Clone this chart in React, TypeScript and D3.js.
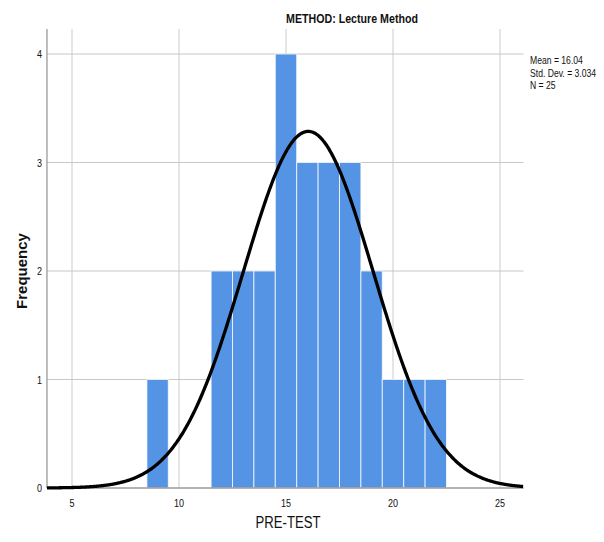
import * as d3 from "d3";

// PRE-TEST scores (bin centers) and counts
const scores = [9, 12, 13, 14, 15, 16, 17, 18, 19, 20, 21, 22];
const counts = [1, 2, 2, 2, 4, 3, 3, 3, 2, 1, 1, 1];
const xTicks = [5, 10, 15, 20, 25];
const yTicks = [0, 1, 2, 3, 4];
const statLines = ["Mean = 16.04", "Std. Dev. = 3.034", "N = 25"];

const MEAN = 16.04;
const SD = 3.034;
const N = 25;

const W = 604;
const H = 542;
const sans = "'Liberation Sans', Arial, sans-serif";

// no narrow font installed, so squeeze Liberation Sans horizontally
function Narrow({
  x,
  y,
  size,
  anchor = "start",
  bold = false,
  children,
}: {
  x: number;
  y: number;
  size: number;
  anchor?: "start" | "middle" | "end";
  bold?: boolean;
  children: React.ReactNode;
}) {
  return (
    <text
      transform={`translate(${x},${y}) scale(0.82,1)`}
      textAnchor={anchor}
      fontFamily={sans}
      fontWeight={bold ? "bold" : "normal"}
      fontSize={size}
      fill="#111"
    >
      {children}
    </text>
  );
}

export default function App() {
  const x = d3.scaleLinear().domain([5, 25]).range([72, 500]);
  const y = d3.scaleLinear().domain([0, 4]).range([488, 54]);
  const left = x(3.83);
  const right = x(26.1);
  const top = y(4.23);
  const bottom = y(0);

  const pdf = (v: number) =>
    (N / (SD * Math.sqrt(2 * Math.PI))) * Math.exp(-((v - MEAN) ** 2) / (2 * SD * SD));
  const curvePts = d3.range(3.83, 26.1001, 0.05).map((v) => [v, pdf(v)] as [number, number]);
  const line = d3
    .line<[number, number]>()
    .x((d) => x(d[0]))
    .y((d) => y(d[1]))
    .curve(d3.curveBasis);

  return (
    <div style={{ position: "fixed", left: 0, top: 0 }}>
      <svg width={W} height={H} style={{ display: "block", background: "#fff" }}>
        <Narrow x={352} y={23} size={13} anchor="middle" bold>
          METHOD: Lecture Method
        </Narrow>

        {/* grid */}
        {xTicks.map((t) => (
          <line key={"gx" + t} x1={x(t)} x2={x(t)} y1={top} y2={bottom} stroke="#d4d4d4" strokeWidth={1.2} />
        ))}
        {yTicks.slice(1).map((t) => (
          <line key={"gy" + t} x1={left} x2={right} y1={y(t)} y2={y(t)} stroke="#c8c8c8" strokeWidth={1.2} />
        ))}

        {/* bars */}
        {scores.map((s, i) => (
          <rect
            key={s}
            x={x(s - 0.5)}
            width={x(s + 0.5) - x(s - 0.5)}
            y={y(counts[i])}
            height={bottom - y(counts[i])}
            fill="#5594e4"
            stroke="#ffffff"
            strokeWidth={1}
            strokeOpacity={0.75}
          />
        ))}

        {/* axes */}
        <line x1={left} x2={left} y1={top} y2={bottom} stroke="#9a9a9a" strokeWidth={1.3} />
        <line x1={left} x2={right} y1={bottom} y2={bottom} stroke="#9a9a9a" strokeWidth={1.3} />

        {/* normal curve */}
        <path d={line(curvePts) ?? ""} fill="none" stroke="#000" strokeWidth={3.3} />

        {yTicks.map((t) => (
          <Narrow key={"ty" + t} x={left - 5} y={y(t) + 4} size={11} anchor="end">
            {t}
          </Narrow>
        ))}
        {xTicks.map((t) => (
          <Narrow key={"tx" + t} x={x(t)} y={507} size={11} anchor="middle">
            {t}
          </Narrow>
        ))}

        {statLines.map((s, i) => (
          <Narrow key={s} x={530} y={64 + i * 12.5} size={10.5}>
            {s}
          </Narrow>
        ))}

        <text
          transform={`translate(27,${y(2)}) rotate(-90)`}
          textAnchor="middle"
          fontFamily={sans}
          fontWeight="bold"
          fontSize={15}
          fill="#111"
        >
          Frequency
        </text>
        <Narrow x={288} y={528} size={16} anchor="middle">
          PRE-TEST
        </Narrow>
      </svg>
    </div>
  );
}
